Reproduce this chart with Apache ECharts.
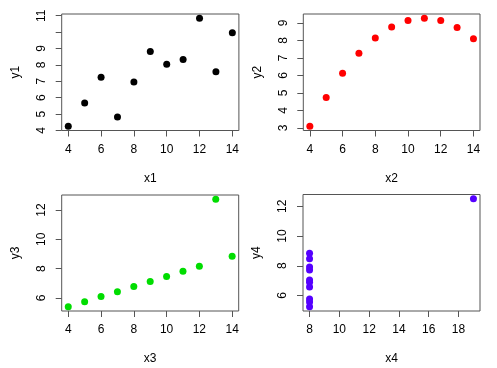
<!DOCTYPE html>
<html>
<head>
<meta charset="utf-8">
<script src="https://cdn.jsdelivr.net/npm/echarts@6/dist/echarts.min.js"></script>
<style>
html,body{margin:0;padding:0;background:#fff;}
#chart{width:497px;height:368px;}
</style>
</head>
<body>
<div id="chart"></div>
<script>
// Anscombe's quartet values
var x1 = [10, 8, 13, 9, 11, 14, 6, 4, 12, 7, 5];
var y1 = [8.04, 6.95, 7.58, 8.81, 8.33, 9.96, 7.24, 4.26, 10.84, 4.82, 5.68];
var x2 = [10, 8, 13, 9, 11, 14, 6, 4, 12, 7, 5];
var y2 = [9.14, 8.14, 8.74, 8.77, 9.26, 8.10, 6.13, 3.10, 9.13, 7.26, 4.74];
var x3 = [10, 8, 13, 9, 11, 14, 6, 4, 12, 7, 5];
var y3 = [7.46, 6.77, 12.74, 7.11, 7.81, 8.84, 6.08, 5.39, 8.15, 6.42, 5.73];
var x4 = [8, 8, 8, 8, 8, 8, 8, 19, 8, 8, 8];
var y4 = [6.58, 5.76, 7.71, 8.84, 8.47, 7.04, 5.25, 12.50, 5.56, 7.91, 6.89];

// tick values and tick labels
var xTicks123 = [4, 6, 8, 10, 12, 14];
var xTicks4 = [8, 10, 12, 14, 16, 18];
var y1Ticks = [4, 5, 6, 7, 8, 9, 10, 11];
var y1Labels = [4, 5, 6, 7, 8, 9, 11];
var y2Ticks = [3, 4, 5, 6, 7, 8, 9];
var y3Ticks = [6, 8, 10, 12];
var y4Ticks = [6, 8, 10, 12];

var xs = [x1, x2, x3, x4];
var ys = [y1, y2, y3, y4];
var xNames = ['x1', 'x2', 'x3', 'x4'];
var yNames = ['y1', 'y2', 'y3', 'y4'];
var colors = ['#000000', '#ff0000', '#00dd00', '#5500ff'];
var xTickSets = [xTicks123, xTicks123, xTicks123, xTicks4];
var yTickSets = [y1Ticks, y2Ticks, y3Ticks, y4Ticks];
var yLabelSets = [y1Labels, y2Ticks, y3Ticks, y4Ticks];

function rRange(arr) {
  var mn = Math.min.apply(null, arr), mx = Math.max.apply(null, arr);
  var p = (mx - mn) * 0.04;
  return [mn - p, mx + p];
}

var grids = [
  {left: 61.7, top: 14, width: 177.2, height: 116.5},
  {left: 303.3, top: 14, width: 176.7, height: 116.5},
  {left: 61.7, top: 195, width: 177, height: 116},
  {left: 303, top: 194.5, width: 177, height: 116.5}
];
var font = 'Liberation Sans, Arial, Helvetica, sans-serif';

var option = {
  animation: false,
  backgroundColor: '#ffffff',
  grid: [], xAxis: [], yAxis: [], series: []
};

for (var i = 0; i < 4; i++) {
  var g = grids[i];
  option.grid.push({left: g.left, top: g.top, width: g.width, height: g.height,
    show: true, borderColor: '#555555', borderWidth: 1, backgroundColor: 'transparent'});
  var xr = rRange(xs[i]), yr = rRange(ys[i]);
  option.xAxis.push({
    type: 'value', gridIndex: i, min: xr[0], max: xr[1],
    name: xNames[i], nameLocation: 'middle', nameGap: 42,
    nameTextStyle: {fontFamily: font, fontSize: 12, color: '#000'},
    axisLine: {show: false},
    axisTick: {show: true, inside: false, length: 6, customValues: xTickSets[i], lineStyle: {color: '#555'}},
    axisLabel: {show: true, margin: 13, customValues: xTickSets[i], fontFamily: font, fontSize: 12, color: '#000', hideOverlap: false},
    splitLine: {show: false}
  });
  option.yAxis.push({
    type: 'value', gridIndex: i, min: yr[0], max: yr[1],
    name: yNames[i], nameLocation: 'middle', nameGap: 40, nameRotate: 90,
    nameTextStyle: {fontFamily: font, fontSize: 12, color: '#000'},
    axisLine: {show: false},
    axisTick: {show: true, inside: false, length: 6, customValues: yTickSets[i], lineStyle: {color: '#555'}},
    axisLabel: {show: true, rotate: 90, margin: 14, customValues: yLabelSets[i], fontFamily: font, fontSize: 12, color: '#000', hideOverlap: false},
    splitLine: {show: false}
  });
  var data = [];
  for (var k = 0; k < xs[i].length; k++) data.push([xs[i][k], ys[i][k]]);
  option.series.push({
    type: 'scatter', xAxisIndex: i, yAxisIndex: i, data: data,
    symbol: 'circle', symbolSize: 7,
    itemStyle: {color: colors[i], opacity: 1}
  });
}

var chart = echarts.init(document.getElementById('chart'), null, {renderer: 'canvas'});
chart.setOption(option);
</script>
</body>
</html>
